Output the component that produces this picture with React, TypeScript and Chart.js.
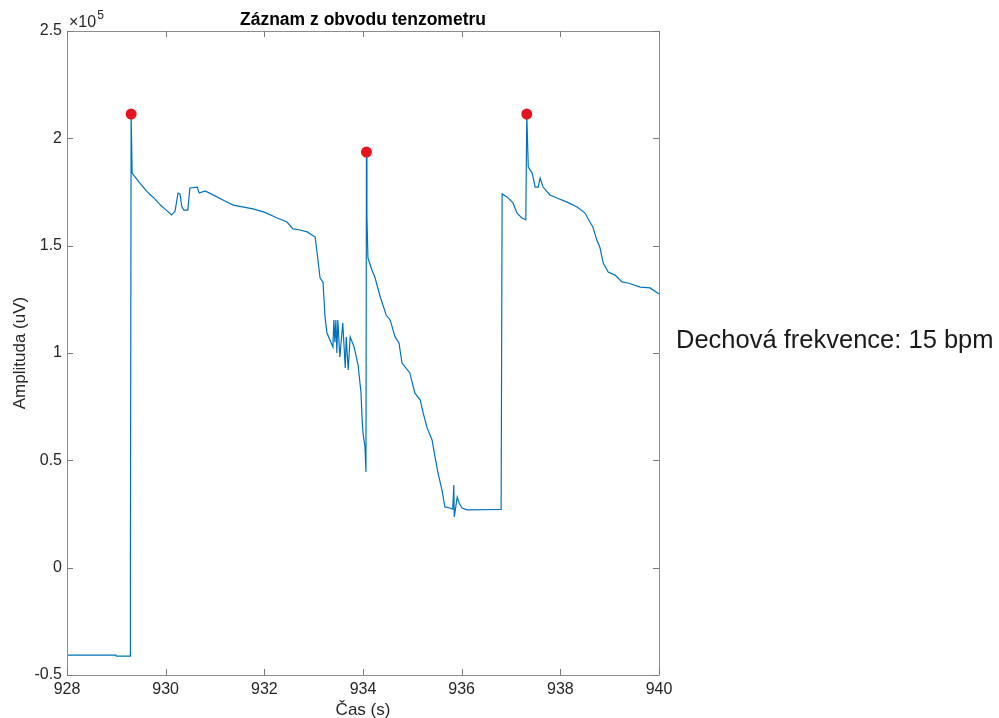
import React, { useEffect, useRef } from "react";
import { Chart, registerables } from "chart.js";

Chart.register(...registerables);

const TITLE = "Záznam z obvodu tenzometru";
const X_TITLE = "Čas (s)";
const Y_TITLE = "Amplituda (uV)";
const NOTE = "Dechová frekvence: 15 bpm";

const xTicks = [928, 930, 932, 934, 936, 938, 940];
const yTicks = [-50000, 0, 50000, 100000, 150000, 200000, 250000];
const yTickLabels = ["-0.5", "0", "0.5", "1", "1.5", "2", "2.5"];

const times = [
  928.0, 928.99, 929.0, 929.28, 929.285, 929.3, 929.32, 929.4, 929.48, 929.55,
  929.62, 929.7, 929.78, 929.9, 930.0,
  930.12, 930.19, 930.25, 930.29, 930.33, 930.37, 930.45, 930.49, 930.64, 930.68,
  930.8, 931.0, 931.2, 931.37, 931.77, 932.0, 932.26, 932.46, 932.58, 932.72, 932.87, 933.03, 933.07,
  933.13, 933.19, 933.23, 933.27, 933.39, 933.41, 933.43, 933.45, 933.47, 933.49,
  933.53, 933.59, 933.64, 933.66, 933.7, 933.74, 933.82, 933.9, 933.96, 933.98,
  934.0, 934.04, 934.06, 934.07, 934.08, 934.1, 934.18, 934.24, 934.35, 934.47,
  934.55, 934.65, 934.73, 934.79, 934.95, 935.05, 935.16, 935.22, 935.3, 935.4,
  935.46, 935.52, 935.6, 935.66, 935.76, 935.82, 935.84, 935.85, 935.91, 935.95,
  936.01, 936.11, 936.78, 936.8, 936.82, 936.92, 937.04, 937.12, 937.22, 937.3,
  937.32, 937.35, 937.43, 937.49, 937.55, 937.59, 937.65, 937.79, 937.93, 938.14,
  938.34, 938.5, 938.6, 938.66, 938.74, 938.8, 938.87, 938.97, 939.11, 939.25,
  939.37, 939.62, 939.82, 940.0,
];

const amplitudes = [
  -40700, -40700, -41200, -41200, -6700, 211300, 183800, 181500, 179000, 177200,
  175300, 173500, 171800, 168800, 166800,
  164300, 166000, 174500, 174000, 168000, 166600, 166600, 176900, 177300, 174500,
  175500, 173200, 170800, 168900, 167100, 165600, 162900, 161000, 157800, 157300, 156400, 154000, 146600,
  134900, 133000, 116800, 109300, 102800, 115400, 105000, 115400, 100000, 115400,
  98000, 114000, 93000, 107500, 92100, 107500, 102800, 94400, 81400, 70200,
  62700, 56200, 44600, 193600, 163400, 144300, 138700, 135400, 126100, 117700,
  115400, 107500, 104700, 95300, 90700, 81400, 78100, 72000, 65100, 59500,
  51600, 44100, 36200, 28300, 27800, 27300, 38500, 23600, 32900, 30000,
  27800, 26900, 27100, 27100, 174100, 172700, 169900, 165200, 162900, 162000,
  211300, 186600, 183800, 177300, 177300, 181500, 177300, 173600, 172200, 170300,
  168000, 165200, 161000, 158700, 152600, 149400, 141900, 137700, 136300, 133100,
  132600, 130700, 130300, 127500,
];

const peakTimes = [929.3, 934.07, 937.32];
const peakValues = [211300, 193600, 211300];

const FONT = "'Liberation Sans', Arial, Helvetica, sans-serif";

export default function App() {
  const ref = useRef<HTMLCanvasElement | null>(null);

  useEffect(() => {
    const canvas = ref.current;
    if (!canvas) return;

    const decor = {
      id: "decor",
      afterDraw(chart: any) {
        const ctx = chart.ctx;
        const { left, right, top, bottom } = chart.chartArea;
        const xs = chart.scales.x;
        const ys = chart.scales.y;
        ctx.save();
        ctx.strokeStyle = "#8c8c8c";
        ctx.lineWidth = 1;
        ctx.beginPath();
        ctx.rect(Math.round(left) + 0.5, Math.round(top) + 0.5, Math.round(right - left), Math.round(bottom - top));
        ctx.stroke();
        ctx.strokeStyle = "#7a7a7a";
        ctx.beginPath();
        const tl = 6;
        xTicks.forEach((t) => {
          const px = Math.round(xs.getPixelForValue(t)) + 0.5;
          ctx.moveTo(px, bottom);
          ctx.lineTo(px, bottom - tl);
          ctx.moveTo(px, top);
          ctx.lineTo(px, top + tl);
        });
        yTicks.forEach((v) => {
          const py = Math.round(ys.getPixelForValue(v)) + 0.5;
          ctx.moveTo(left, py);
          ctx.lineTo(left + tl, py);
          ctx.moveTo(right, py);
          ctx.lineTo(right - tl, py);
        });
        ctx.stroke();

        ctx.fillStyle = "#000000";
        ctx.font = `bold 17.5px ${FONT}`;
        ctx.textAlign = "center";
        ctx.textBaseline = "alphabetic";
        ctx.fillText(TITLE, (left + right) / 2, 25);

        ctx.fillStyle = "#262626";
        ctx.textAlign = "left";
        ctx.font = `16px ${FONT}`;
        ctx.fillText("×10", left + 2, 27);
        const w = ctx.measureText("×10").width;
        ctx.font = `12px ${FONT}`;
        ctx.fillText("5", left + 2 + w + 1, 19);

        ctx.font = `17px ${FONT}`;
        ctx.textAlign = "center";
        ctx.fillText(X_TITLE, (left + right) / 2, 715);

        ctx.save();
        ctx.translate(25, (top + bottom) / 2);
        ctx.rotate(-Math.PI / 2);
        ctx.textAlign = "center";
        ctx.fillText(Y_TITLE, 0, 0);
        ctx.restore();

        ctx.font = `25.5px ${FONT}`;
        ctx.textAlign = "left";
        ctx.fillStyle = "#1a1a1a";
        ctx.fillText(NOTE, 676, 348);
        ctx.restore();
      },
    };

    const chart = new Chart(canvas, {
      type: "scatter",
      data: {
        datasets: [
          {
            label: "peaks",
            data: peakTimes.map((t, i) => ({ x: t, y: peakValues[i] })),
            pointRadius: 5.5,
            pointBackgroundColor: "#E6141F",
            pointBorderWidth: 0,
            borderWidth: 0,
            showLine: false,
            order: 0,
          },
          {
            label: "signal",
            data: times.map((t, i) => ({ x: t, y: amplitudes[i] })),
            showLine: true,
            borderColor: "#0072BD",
            borderWidth: 1.2,
            pointRadius: 0,
            tension: 0,
            order: 1,
          },
        ],
      },
      options: {
        animation: false,
        responsive: false,
        devicePixelRatio: 1,
        layout: { padding: { top: 31, right: 340, left: 0, bottom: 0 } },
        plugins: { legend: { display: false }, tooltip: { enabled: false }, title: { display: false } },
        scales: {
          x: {
            type: "linear",
            min: 928,
            max: 940,
            afterFit: (s: any) => {
              s.height = 43;
            },
            afterBuildTicks: (s: any) => {
              s.ticks = xTicks.map((v) => ({ value: v }));
            },
            ticks: {
              color: "#262626",
              font: { family: FONT, size: 16 },
              padding: 5,
              maxRotation: 0,
              callback: (v: any) => String(v),
            },
            grid: { display: false, drawTicks: false },
            border: { display: false },
          },
          y: {
            type: "linear",
            min: -50000,
            max: 250000,
            afterFit: (s: any) => {
              s.width = 67;
            },
            afterBuildTicks: (s: any) => {
              s.ticks = yTicks.map((v) => ({ value: v }));
            },
            ticks: {
              color: "#262626",
              font: { family: FONT, size: 16 },
              padding: 5,
              callback: (v: any) => {
                const i = yTicks.indexOf(Number(v));
                return i >= 0 ? yTickLabels[i] : "";
              },
            },
            grid: { display: false, drawTicks: false },
            border: { display: false },
          },
        },
      },
      plugins: [decor],
    });

    return () => chart.destroy();
  }, []);

  return (
    <div style={{ position: "absolute", left: 0, top: 0, width: 999, height: 718, background: "#ffffff" }}>
      <canvas ref={ref} width={999} height={718} style={{ width: 999, height: 718, display: "block" }} />
    </div>
  );
}
